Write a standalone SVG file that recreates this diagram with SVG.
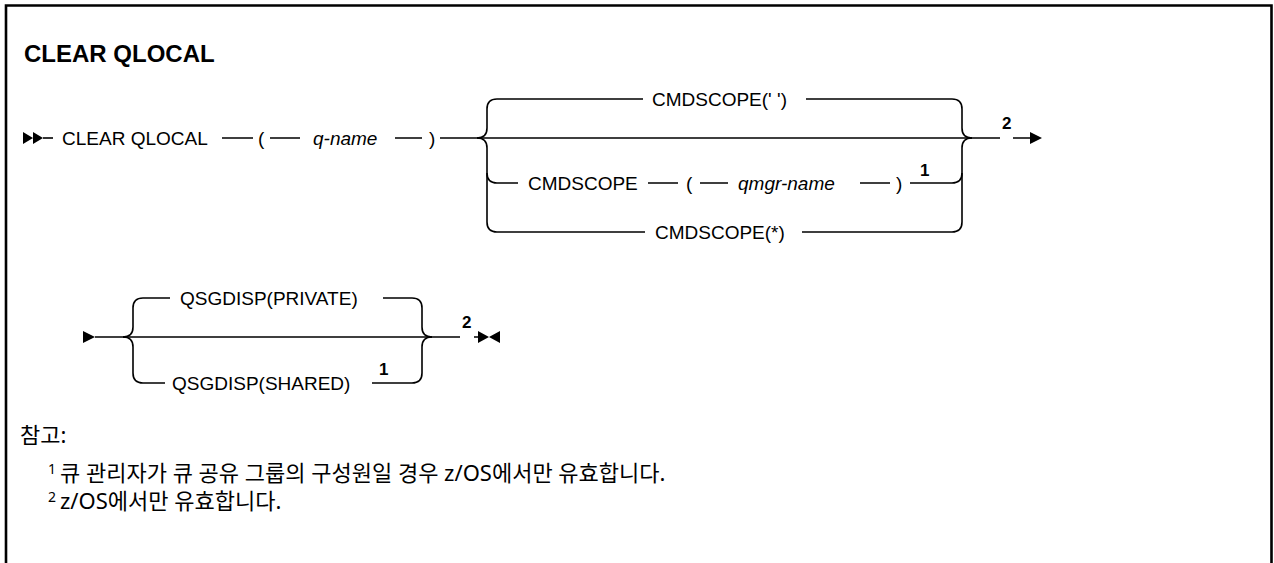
<svg xmlns="http://www.w3.org/2000/svg" width="1274" height="563" viewBox="0 0 1274 563">
<style>
.ln{fill:none;stroke:#000;stroke-width:1.6}
.t{font-family:"Liberation Sans",Arial,sans-serif;font-size:19px;fill:#000}
.i{font-style:italic}
.sup{font-family:"Liberation Sans",Arial,sans-serif;font-size:17px;font-weight:bold;fill:#000}
.title{font-family:"Liberation Sans",Arial,sans-serif;font-size:24px;font-weight:bold;fill:#000}
.note{font-family:"Noto Sans","Noto Sans CJK KR",sans-serif;font-size:22px;fill:#000}
.nsup{font-family:"Noto Sans",sans-serif;font-size:14px;fill:#000}
.ah{fill:#000;stroke:none}
</style>
<rect x="0" y="0" width="1274" height="563" fill="#fff"/>
<path d="M6,563 V5.5 H1271.5 V563" fill="none" stroke="#000" stroke-width="2.6"/>
<text class="title" x="24" y="62">CLEAR QLOCAL</text>

<g id="connectors">
  <path class="ah" d="M23,132 L33,138 L23,144 Z M33,132 L43,138 L33,144 Z"/>
  <path class="ln" d="M43,138 H53"/>
  <path class="ln" d="M222,138 H253 M270,138 H300 M395,138 H422 M440,138 H962"/>
  <path class="ln" d="M477,138 Q487,138 487,128 V109 Q487,99 497,99 H643 M806,99 H952 Q962,99 962,109 V128 Q962,138 972,138"/>
  <path class="ln" d="M477,138 Q487,138 487,148 V222 Q487,232 497,232 H645 M802,232 H952 Q962,232 962,222 V148 Q962,138 972,138"/>
  <path class="ln" d="M487,173 Q487,183 497,183 H518 M648,183 H678 M700,183 H728 M860,183 H890 M910,183 H952 Q962,183 962,173"/>
  <path class="ln" d="M962,138 H1000 M1013,138 H1032"/>
  <path class="ah" d="M1030,132 L1042,138 L1030,144 Z"/>
  <path class="ah" d="M83,331 L95,337 L83,343 Z"/>
  <path class="ln" d="M95,337 H460 M474,337 H480"/>
  <path class="ln" d="M123,337 Q133,337 133,327 V308 Q133,298 143,298 H170 M383,298 H412 Q422,298 422,308 V327 Q422,337 432,337"/>
  <path class="ln" d="M123,337 Q133,337 133,347 V373 Q133,383 143,383 H165 M372,383 H412 Q422,383 422,373 V347 Q422,337 432,337"/>
  <path class="ah" d="M478,331 L489,337 L478,343 Z M500,331 L489,337 L500,343 Z"/>
</g>

<g id="n-clear"><text class="t" x="62" y="145">CLEAR QLOCAL</text></g>
<g id="n-lp1"><text class="t" x="258" y="145">(</text></g>
<g id="n-qname"><text class="t i" x="313" y="145">q-name</text></g>
<g id="n-rp1"><text class="t" x="429" y="145">)</text></g>
<g id="n-cmd-blank"><text class="t" x="652" y="106">CMDSCOPE(' ')</text></g>
<g id="n-cmd"><text class="t" x="528" y="190">CMDSCOPE</text></g>
<g id="n-lp2"><text class="t" x="686" y="190">(</text></g>
<g id="n-qmgr"><text class="t i" x="738" y="190">qmgr-name</text></g>
<g id="n-rp2"><text class="t" x="896" y="190">)</text></g>
<g id="n-sup1a"><text class="sup" x="920" y="176">1</text></g>
<g id="n-cmd-star"><text class="t" x="655" y="239">CMDSCOPE(*)</text></g>
<g id="n-sup2a"><text class="sup" x="1002" y="129">2</text></g>

<g id="n-private"><text class="t" x="180" y="305">QSGDISP(PRIVATE)</text></g>
<g id="n-shared"><text class="t" x="172" y="390">QSGDISP(SHARED)</text></g>
<g id="n-sup1b"><text class="sup" x="379" y="375">1</text></g>
<g id="n-sup2b"><text class="sup" x="462" y="328">2</text></g>

<g id="notes">
  <text class="note" x="20" y="443">참고:</text>
  <text class="nsup" x="48" y="474">1</text>
  <text class="note" x="60" y="481">큐 관리자가 큐 공유 그룹의 구성원일 경우 z/OS에서만 유효합니다.</text>
  <text class="nsup" x="48" y="502">2</text>
  <text class="note" x="60" y="509">z/OS에서만 유효합니다.</text>
</g>
</svg>
